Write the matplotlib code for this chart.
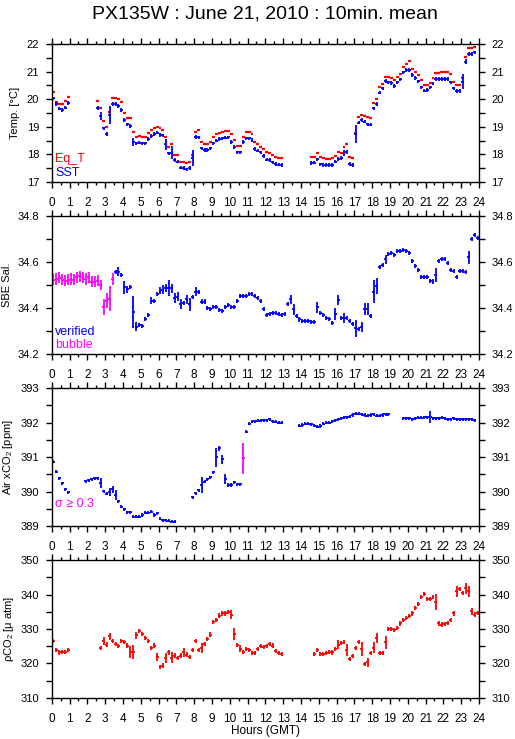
import matplotlib
matplotlib.use("Agg")
import matplotlib.pyplot as plt
import numpy as np
from matplotlib.ticker import MultipleLocator, FormatStrFormatter

plt.rcParams['font.family'] = ['Liberation Sans', 'DejaVu Sans']
plt.rcParams['mathtext.fontset'] = 'custom'
plt.rcParams['mathtext.rm'] = 'Liberation Sans'

N = 144
# 10 minute bins over the day (hours, bin centres)
hours = np.arange(N) / 6 + 1 / 12

RED, BLUE, MAG = '#ff0000', '#0000ff', '#ff00ff'

# ---- temperature ----
sst = ([20.03, 19.83, 19.66, 19.60, 19.70, 19.86] + [None] * 9 +
       [19.68, 19.38, 18.94, 18.75, 19.43, 19.83, 19.83, 19.75, 19.60, 19.25, 19.09, 19.04,
        18.46, 18.40, 18.43, 18.40, 18.40, 18.56, 18.67, 18.73, 18.79, 18.70, 18.69,
        18.36, 18.04, 18.06, 17.80, 17.74, 17.52, 17.51, 17.46, 17.51, 17.87,
        18.64, 18.62, 18.22, 18.16, 18.16, 18.22, 18.40, 18.50, 18.56, 18.58,
        18.61, 18.62, 18.44, 18.26, 18.07, 18.07, 18.44, 18.58, 18.58, 18.52,
        18.20, 18.14, 18.07, 17.95, 17.81, 17.80, 17.71, 17.65, 17.63, 17.62] + [None] * 9 +
       [17.68, 17.70, 17.82, 17.64, 17.62, 17.61, 17.61, 17.61, 17.74, 17.84,
        17.86, 18.06, 18.09, 17.65, 17.62, 18.73, 19.15, 19.25, 19.19, 19.09,
        19.08, 19.67, 19.83, 20.24, 20.39, 20.66, 20.61, 20.58, 20.49, 20.61,
        20.72, 20.97, 21.06, 21.06, 20.88, 20.76, 20.65, 20.43, 20.31, 20.33,
        20.43, 20.57, 20.73, 20.73, 20.73, 20.73, 20.73, 20.61, 20.39, 20.30,
        20.30, 20.63, 21.36, 21.64, 21.63, 21.70, None])
eqt = ([20.25, 19.89, 19.83, 19.83, 19.92, 20.08] + [None] * 9 +
       [19.93, 19.68, 19.21, 19.00, 19.52, 20.03, 20.03, 20.00, 19.89, 19.50, 19.32, 19.31,
        18.80, 18.64, 18.68, 18.64, 18.62, 18.76, 18.88, 18.94, 19.00, 18.94, 18.90,
        18.64, 18.26, 18.36, 17.99, 17.99, 17.74, 17.74, 17.69, 17.72, 17.99,
        18.80, 18.88, 18.46, 18.36, 18.36, 18.46, 18.62, 18.73, 18.79, 18.82,
        18.85, 18.85, 18.73, 18.52, 18.32, 18.29, 18.64, 18.80, 18.80, 18.74,
        18.46, 18.36, 18.28, 18.20, 18.07, 18.04, 17.98, 17.91, 17.88, 17.86] + [None] * 9 +
       [17.92, 17.92, 18.06, 17.89, 17.86, 17.84, 17.84, 17.86, 17.95, 18.10,
        18.04, 18.26, 18.38, 17.92, 17.87, 18.76, 19.34, 19.44, 19.39, 19.34,
        19.31, 19.85, 20.00, 20.43, 20.57, 20.82, 20.82, 20.76, 20.70, 20.79,
        20.91, 21.15, 21.26, 21.40, 21.10, 21.00, 20.88, 20.70, 20.50, 20.53,
        20.60, 20.76, 20.96, 20.96, 20.98, 20.98, 20.98, 20.90, 20.61, 20.50,
        20.50, 20.76, 21.52, 21.84, 21.84, 21.88, None])
sst_err_default = 0.065
sst_big_bins = [16, 19, 27, 38, 40, 47, 98, 99, 102, 138, 139]
sst_big_err = [0.15, 0.33, 0.15, 0.20, 0.24, 0.30, 0.10, 0.08, 0.32, 0.27, 0.10]

# ---- salinity ----
sal = [34.522, 34.526, 34.532, 34.522, 34.518, 34.522, 34.526, 34.522, 34.533, 34.539,
       34.533, 34.526, 34.533, 34.515, 34.515, 34.518, 34.500, 34.403, 34.432, 34.440, 34.526,
       34.558, 34.558, 34.543, 34.490, 34.481, 34.490, 34.381, 34.319, 34.326, 34.322,
       34.352, 34.370, 34.432, 34.432, 34.459, 34.475, 34.480, 34.486, 34.486, 34.486,
       34.442, 34.449, 34.417, 34.420, 34.438, 34.417, 34.449, 34.471, 34.471, 34.428,
       34.428, 34.399, 34.396, 34.404, 34.404, 34.391, 34.387, 34.406, 34.413, 34.406,
       34.406, 34.432, 34.454, 34.454, 34.454, 34.459, 34.459, 34.454, 34.445, 34.430,
       34.394, 34.370, 34.374, 34.380, 34.377, 34.372, 34.370, 34.375, 34.417, 34.438,
       34.394, 34.365, 34.350, 34.345, 34.345, 34.343, 34.340, 34.340, 34.403, 34.380,
       34.370, 34.355, 34.352, 34.336, 34.374, 34.435, 34.358, 34.355, 34.355, 34.345,
       34.330, 34.312, 34.308, 34.316, 34.396, 34.396, 34.365, 34.471, 34.496, 34.580,
       34.587, 34.612, 34.635, 34.638, 34.630, 34.649, 34.649, 34.652, 34.649, 34.640,
       34.606, 34.584, 34.565, 34.533, 34.535, 34.533, 34.517, 34.515, 34.543, 34.604,
       34.612, 34.612, 34.597, 34.565, 34.562, 34.533, 34.562, 34.562, 34.555, 34.620,
       34.700, 34.717, 34.706]
sal_bubble_bins = list(range(0, 21))
sal_err_default = 0.009
sal_big_bins = list(range(0, 16)) + [16, 17, 18, 19, 20, 22, 24, 25, 27, 28, 33, 36, 37, 38,
                                     39, 40, 41, 42, 43, 45, 46, 48, 80, 81, 89, 95, 96, 98,
                                     102, 104, 105, 106, 108, 109, 112, 129, 140]
sal_big_err = [0.024] * 16 + [0.022, 0.034, 0.033, 0.054, 0.024, 0.02, 0.027, 0.015, 0.07,
                              0.021, 0.015, 0.015, 0.02, 0.018, 0.036, 0.02, 0.022, 0.02,
                              0.02, 0.02, 0.028, 0.02, 0.02, 0.025, 0.025, 0.025, 0.022,
                              0.022, 0.036, 0.022, 0.025, 0.027, 0.05, 0.036, 0.02, 0.03,
                              0.03]

# ---- atmospheric xCO2 ----
xco2 = ([390.86, 390.57, 390.38, 390.24, 390.07, 389.98] + [None] * 5 +
        [390.30, 390.33, 390.35, 390.38, 390.38, 390.24, 390.01, 389.93, 389.98, 390.07,
         389.90, 389.72, 389.56, 389.48, 389.40, 389.40, 389.27, 389.27, 389.27, 389.32,
         389.39, 389.39, 389.42, 389.32, 389.37, 389.21, 389.17, 389.17, 389.15, 389.13,
         389.13] + [None] * 5 +
        [389.83, 389.95, 390.04, 390.19, 390.28, 390.36, 390.41, 390.56, 390.99, 391.25,
         390.93, 390.36, 390.19, 390.19, 390.27, 390.21, 390.21, 390.96, 391.73, 391.96,
         392.02, 392.04, 392.05, 392.05, 392.07, 392.07, 392.09, 392.04, 392.02, 392.00,
         392.00] + [None] * 5 +
        [391.91, 391.93, 391.96, 391.96, 391.95, 391.91, 391.88, 391.90, 391.96, 392.00,
         392.00, 392.04, 392.07, 392.09, 392.12, 392.14, 392.15, 392.17, 392.22, 392.25,
         392.25, 392.24, 392.22, 392.20, 392.22, 392.24, 392.20, 392.20, 392.22, 392.24,
         392.24] + [None] * 4 +
        [392.12, 392.12, 392.12, 392.10, 392.12, 392.14, 392.14, 392.15, 392.15, 392.17,
         392.12, 392.12, 392.12, 392.14, 392.12, 392.10, 392.10, 392.12, 392.09, 392.09,
         392.09, 392.09, 392.09, 392.09, 392.07, None])
xco2_sigma_bins = [64]
xco2_err_default = 0.045
xco2_big_bins = [16, 19, 20, 21, 50, 55, 56, 57, 58, 64, 127]
xco2_big_err = [0.15, 0.12, 0.10, 0.15, 0.22, 0.27, 0.08, 0.12, 0.15, 0.45, 0.17]

# ---- seawater pCO2 ----
pco2 = ([326.45, 324.0, 323.2, 323.3, 323.3, 324.0] + [None] * 10 +
        [324.5, 326.45, 325.5, 327.9, 326.45, 325.7, 325.0, 326.45, 326.2, 325.2,
         323.3, 323.3, 328.2, 329.4, 328.6, 327.4, 326.45, 324.5, 325.2, 321.9,
         318.95, 319.4, 321.6, 323.2, 321.6, 322.3, 321.6, 322.3, 323.2, 322.6,
         321.9, 324.0, 326.6, 324.0, 324.5, 325.7, 327.2, 328.4, 332.0, 332.6,
         333.9, 334.5, 334.5, 335.0, 334.2, 328.6, 325.3, 324.3, 323.3, 324.2,
         323.8, 323.0, 323.0, 324.3, 325.0, 324.7, 325.0, 325.7, 325.2, 323.7,
         323.0, 322.75] + [None] * 10 +
        [322.75, 324.0, 322.85, 322.85, 323.0, 323.3, 323.2, 324.3, 325.5, 326.0,
         326.2, 324.0, 321.3, 322.1, 324.5, 326.3, 324.2, 319.8, 320.3, 323.0,
         324.5, 327.4, 323.0, 323.0, 326.2, 330.0, 330.0, 329.8, 330.3, 331.6,
         332.6, 333.3, 333.8, 334.5, 336.2, 337.2, 339.4, 340.1, 338.6, 338.8,
         339.4, 337.8, 331.6, 331.3, 331.5, 331.8, 332.6, 334.5, 340.9, 341.5,
         340.4, 341.8, 340.9, 335.2, 334.2, 334.7])
pco2_err_default = 0.6
pco2_big_bins = [17, 19, 26, 27, 28, 35, 38, 40, 44, 50, 60, 61, 63,
                 96, 99, 104, 106, 108, 109, 112, 129, 136, 139, 140, 141]
pco2_big_err = [1.1, 1.0, 1.8, 2.1, 1.0, 1.2, 1.5, 1.6, 1.2, 1.5, 1.2, 1.7, 1.1,
                1.2, 1.7, 2.0, 1.3, 1.6, 1.5, 1.9, 2.4, 1.6, 1.6, 1.6, 1.0]


def errs(default, bins, vals):
    e = np.full(N, default)
    e[bins] = vals
    return e


def bars(ax, y, err, color, mask=None):
    y = np.array(y, dtype=float)
    if mask is not None:
        y = np.where(mask, y, np.nan)
    ax.errorbar(hours, y, xerr=1 / 12, yerr=err, fmt='none', ecolor=color,
                elinewidth=1.3, capsize=0)


fig = plt.figure(figsize=(5.15, 7.39), dpi=100)
L, W, H = 0.1004, 0.8297, 0.1867
bottoms = [0.7537, 0.521, 0.2882, 0.0555]
axs = [fig.add_axes([L, b, W, H]) for b in bottoms]

limits = [(17, 22, 1, '%d'), (34.2, 34.8, 0.2, '%.1f'), (389, 393, 1, '%d'), (310, 350, 10, '%d')]
ylabels = ['Temp. [°C]', 'SBE Sal.', 'Air xCO$_2$ [ppm]', 'ρCO$_2$ [μ atm]']
label_x = [-0.074, -0.094, -0.086, -0.084]

for ax, (lo, hi, step, fmt), lab, lx in zip(axs, limits, ylabels, label_x):
    ax.set_xlim(0, 24)
    ax.set_ylim(lo, hi)
    ax.xaxis.set_major_locator(MultipleLocator(1))
    ax.xaxis.set_minor_locator(MultipleLocator(0.5))
    ax.yaxis.set_major_locator(MultipleLocator(step))
    ax.yaxis.set_minor_locator(MultipleLocator(step / 2))
    ax.yaxis.set_major_formatter(FormatStrFormatter(fmt))
    ax.tick_params(axis='both', which='both', direction='out', top=True, right=True,
                   labelright=True, labelsize=8, width=1.0, color='black')
    ax.tick_params(axis='x', which='major', length=4.5, pad=6.5, labelsize=8.5)
    ax.tick_params(axis='x', which='minor', length=2.5)
    ax.tick_params(axis='y', which='both', length=4, pad=5)
    for s in ax.spines.values():
        s.set_linewidth(1.0)
    ax.set_ylabel(lab, fontsize=8)
    ax.yaxis.set_label_coords(lx, 0.5)

# panel 1
ax = axs[0]
e = np.array(eqt, dtype=float)
ax.hlines(e, hours - 1 / 12, hours + 1 / 12, color=RED, lw=1.6)
bars(ax, sst, errs(sst_err_default, sst_big_bins, sst_big_err), BLUE)
ax.text(0.008, 0.17, 'Eq_T', color=RED, transform=ax.transAxes, fontsize=9, va='center')
ax.text(0.008, 0.067, 'SST', color=BLUE, transform=ax.transAxes, fontsize=9, va='center')

# panel 2
ax = axs[1]
bub = np.zeros(N, bool)
bub[sal_bubble_bins] = True
se = errs(sal_err_default, sal_big_bins, sal_big_err)
bars(ax, sal, se, BLUE, ~bub)
bars(ax, sal, se, MAG, bub)
ax.text(0.008, 0.157, 'verified', color=BLUE, transform=ax.transAxes, fontsize=9, va='center')
ax.text(0.008, 0.065, 'bubble', color=MAG, transform=ax.transAxes, fontsize=9, va='center')

# panel 3
ax = axs[2]
sig = np.zeros(N, bool)
sig[xco2_sigma_bins] = True
xe = errs(xco2_err_default, xco2_big_bins, xco2_big_err)
bars(ax, xco2, xe, BLUE, ~sig)
bars(ax, xco2, xe, MAG, sig)
ax.text(0.008, 0.16, 'σ ≥ 0.3', color=MAG, transform=ax.transAxes, fontsize=9, va='center')

# panel 4
ax = axs[3]
bars(ax, pco2, errs(pco2_err_default, pco2_big_bins, pco2_big_err), RED)

fig.text(L + W / 2, 1 - 14 / 739, 'PX135W : June 21, 2010 : 10min. mean',
         ha='center', va='center', fontsize=14)
fig.text(L + W / 2, 1 - 731 / 739, 'Hours (GMT)', ha='center', va='center', fontsize=8.5)

fig.savefig('out.png', dpi=100)
